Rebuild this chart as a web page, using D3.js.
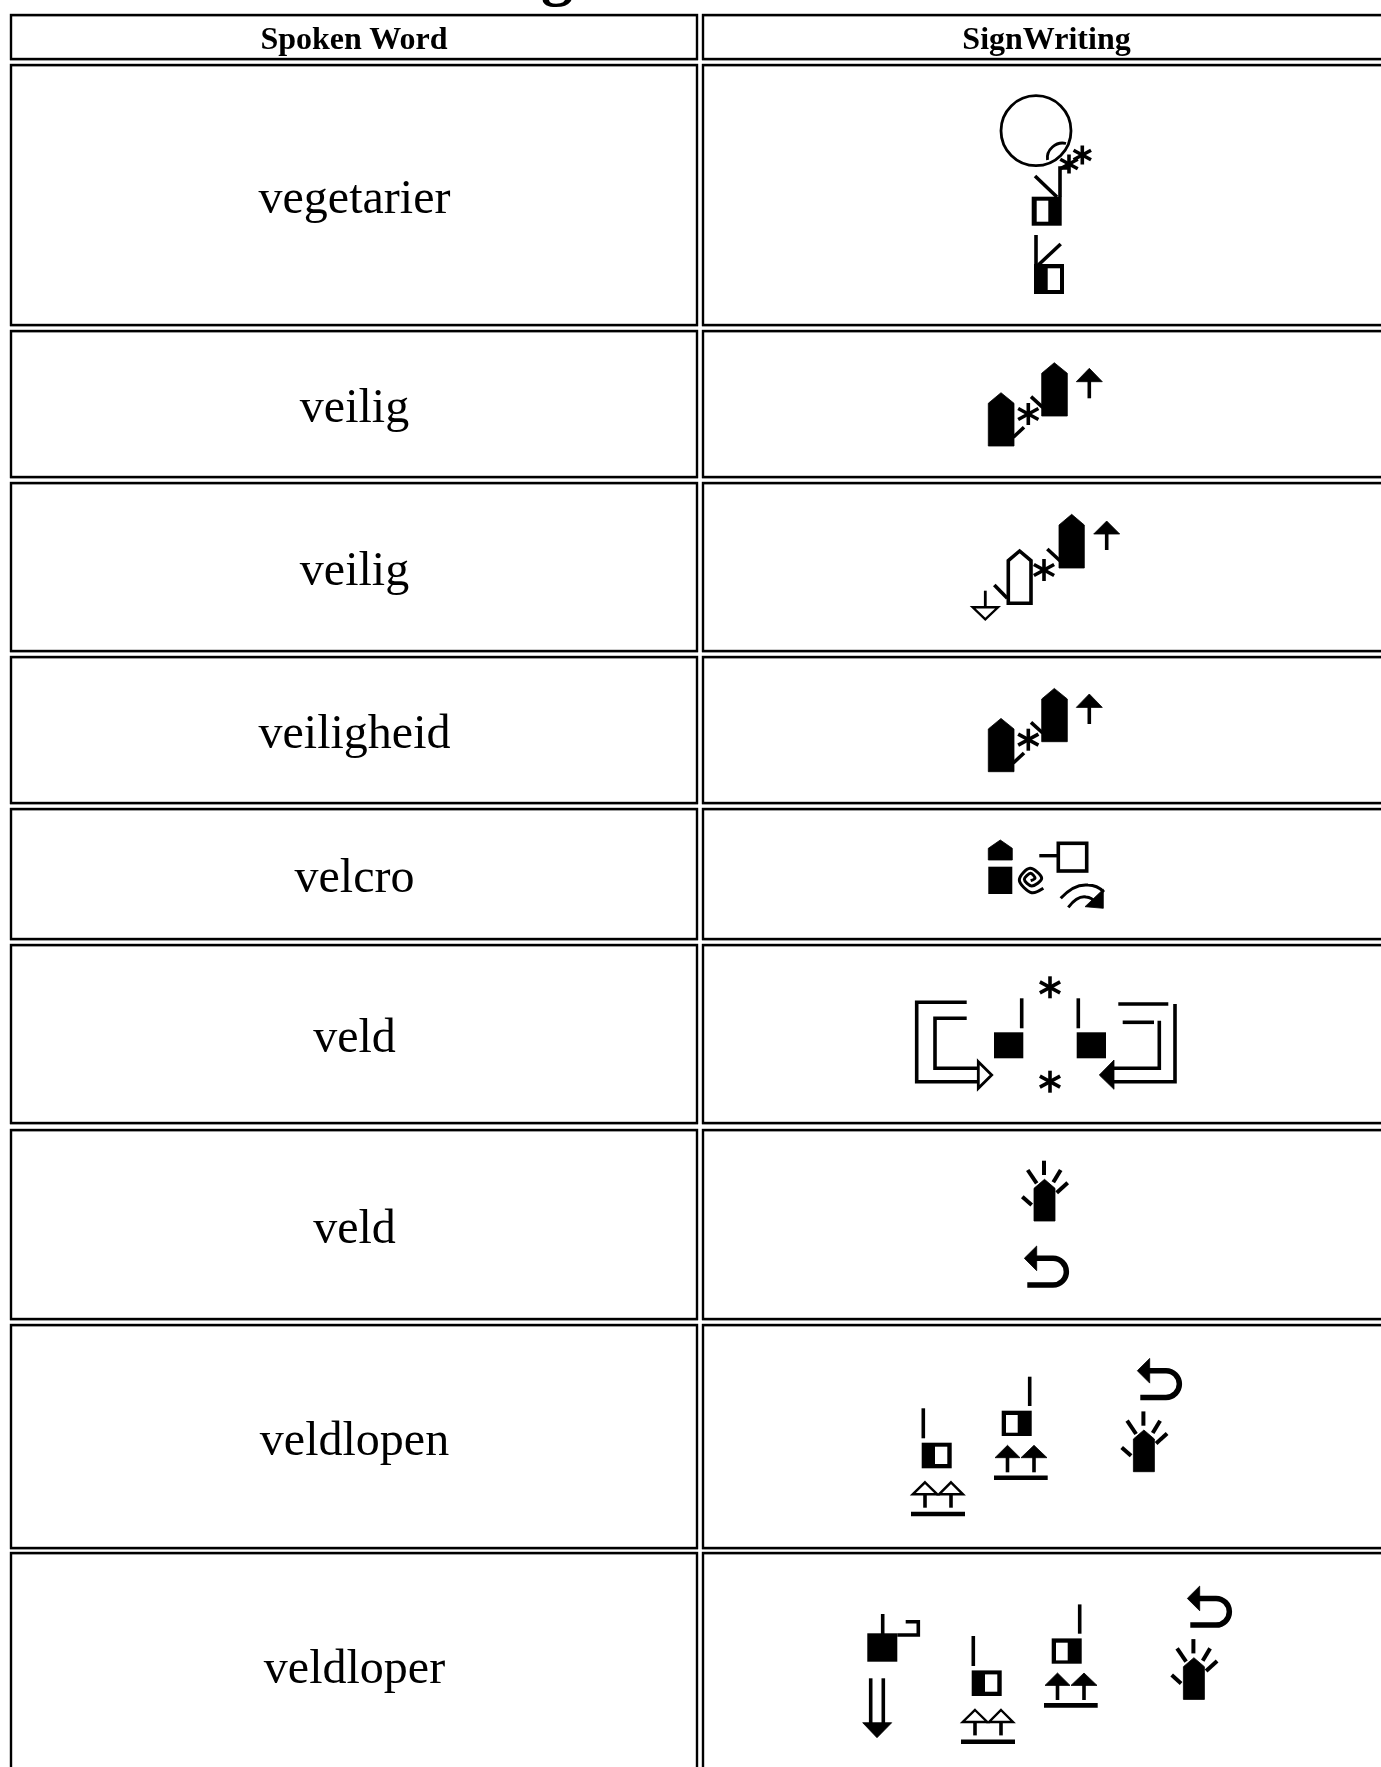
<!DOCTYPE html>
<html><head><meta charset="utf-8">
<script src="https://cdn.jsdelivr.net/npm/d3@7"></script>
<style>html,body{margin:0;padding:0;background:#fff;overflow:hidden}svg{display:block}</style>
</head><body><div id="c"></div>
<script>
// ---- table content ----
const headers = ["Spoken Word", "SignWriting"];
const words = ["vegetarier","veilig","veilig","veiligheid","velcro","veld","veld","veldlopen","veldloper"];
const titleFragment = "g";
const rowTops    = [65,331,483,657,809,945,1130,1325,1553];
const rowBottoms = [325,477,651,803,939,1123,1319,1548,1800];
const headerTop = 15, headerBottom = 59;
const colLefts = [11,703], colRights = [697,1392];

const W = 1381, H = 1767;
const svg = d3.select("#c").append("svg").attr("width",W).attr("height",H).attr("viewBox",[0,0,W,H]);
const defs = svg.append("defs");
defs.append("filter").attr("id","soft").attr("x","-5%").attr("y","-5%").attr("width","110%").attr("height","110%")
  .append("feGaussianBlur").attr("stdDeviation",0.5);
defs.append("filter").attr("id","softText").attr("x","-5%").attr("y","-5%").attr("width","110%").attr("height","110%")
  .append("feGaussianBlur").attr("stdDeviation",0.3);

const serif = "'Liberation Serif','Times New Roman',serif";

// title descender, cropped by the top of the page
svg.append("text").text(titleFragment).attr("x",541).attr("y",-7)
  .attr("font-family",serif).attr("font-size",64).attr("font-weight","bold").attr("fill","#000");

// ---- cells ----
const rows = [{t:headerTop,b:headerBottom}].concat(words.map((w,i)=>({t:rowTops[i],b:rowBottoms[i]})));
const cellG = svg.append("g");
rows.forEach(r=>{
  [0,1].forEach(c=>{
    cellG.append("rect").attr("x",colLefts[c]).attr("y",r.t+0.7).attr("width",colRights[c]-colLefts[c]).attr("height",r.b-r.t)
      .attr("fill","none").attr("stroke","#a8a8a8").attr("stroke-width",2);
    cellG.append("rect").attr("x",colLefts[c]).attr("y",r.t).attr("width",colRights[c]-colLefts[c]).attr("height",r.b-r.t)
      .attr("fill","none").attr("stroke","#000").attr("stroke-width",2.4);
  });
});
const textG = svg.append("g").attr("filter","url(#softText)");
textG.selectAll("text.h").data(headers).join("text").attr("class","h")
  .attr("x",(d,i)=>i?1046.5:354).attr("y",49)
  .attr("text-anchor","middle").attr("font-family",serif).attr("font-size",32).attr("font-weight","bold").attr("fill","#000").text(d=>d);
textG.selectAll("text.w").data(words).join("text").attr("class","w")
  .attr("x",354.5).attr("y",(d,i)=>(rowTops[i]+Math.min(rowBottoms[i],1777))/2+18.4)
  .attr("text-anchor","middle").attr("font-family",serif).attr("font-size",48).attr("fill","#000").text(d=>d);

// ---- glyph helpers ----
const root = svg.append("g").attr("filter","url(#soft)");
function P(g,d,o={}){ return g.append("path").attr("d",d)
  .attr("fill",o.fill||"none").attr("stroke",o.stroke===undefined?"#000":o.stroke)
  .attr("stroke-width",o.w===undefined?3.6:o.w).attr("stroke-linejoin","miter"); }
const L=(g,x1,y1,x2,y2,w=3.6)=>P(g,`M${x1},${y1}L${x2},${y2}`,{w});
const R=(g,x0,y0,x1,y1,fill="#000")=>g.append("rect").attr("x",x0).attr("y",y0).attr("width",x1-x0).attr("height",y1-y0).attr("fill",fill);
function house(g,x0,x1,bottom,shoulder,ax,ay,hollow){
  const d=`M${x0},${bottom}L${x0},${shoulder}L${ax},${ay}L${x1},${shoulder}L${x1},${bottom}Z`;
  P(g,d,hollow?{fill:"#fff",w:3.6}:{fill:"#000",stroke:"#000",w:0.8});
}
function star(g,x,y,r=11){
  L(g,x,y-r,x,y+r,3.6);
  const a=r*0.92, b=r*0.5;
  L(g,x-a,y-b,x+a,y+b,3.6);
  L(g,x-a,y+b,x+a,y-b,3.6);
}
function tri(g,pts,hollow,w=2.8){
  P(g,"M"+pts.map(p=>p.join(",")).join("L")+"Z",hollow?{fill:"#fff",w}:{fill:"#000",stroke:"#000",w:0.8});
}
function upArrow(g,cx,tip,base,half,stemEnd,hollow){
  L(g,cx,base-1,cx,stemEnd,3.6);
  tri(g,[[cx,tip],[cx+half,base],[cx-half,base]],hollow,2.4);
}
function halfHand(g,x0,y0,x1,y1,ix0,iy0,ix1,iy1){ R(g,x0,y0,x1,y1); R(g,ix0,iy0,ix1,iy1,"#fff"); }

// ---- row 1 ----
{ const g=root.append("g");
  g.append("circle").attr("cx",1036).attr("cy",130.7).attr("r",35).attr("fill","none").attr("stroke","#000").attr("stroke-width",2.8);
  P(g,"M1047.5,160C1046,150 1056,141 1066,143.5",{w:2.8});
  star(g,1069,164,9.5); star(g,1082.3,155,9.5);
  P(g,"M1060,197L1060,168L1068,168",{w:3.6});
  L(g,1035,176,1057,197,3.6);
  halfHand(g,1031.7,196.7,1061.7,225.7,1036.7,200.7,1048.3,221.7);
  L(g,1036,235,1036,265,3.6);
  L(g,1038.3,265,1060.7,244,3.6);
  halfHand(g,1034,264,1064,294,1047.7,268.3,1060,290);
}
// ---- rows 2 and 4 share one sign ----
function safeSign(g){
  house(g,988.3,1014,446,403.3,1001,392.7);
  L(g,1013.3,437.3,1024,427.3,3.6);
  star(g,1028.3,414);
  house(g,1041.7,1067.3,416,373.3,1054.3,362.7);
  L(g,1031,396.7,1042.7,407.3,3.6);
  upArrow(g,1089.3,368.3,381.7,13,398.3);
}
safeSign(root.append("g"));
safeSign(root.append("g").attr("transform","translate(0,325.7)"));
// ---- row 3 ----
{ const g=root.append("g");
  house(g,1008.3,1031,603.3,560.7,1019.6,551,true);
  L(g,994.3,585,1007.3,598.3,3.6);
  star(g,1044,570);
  house(g,1059,1084.3,568,525,1071.7,514.3);
  L(g,1047.3,549,1060,560.7,3.6);
  upArrow(g,1106.7,521,534,13,550);
  L(g,985.3,590.7,985.3,607,2.8);
  tri(g,[[972.7,607.3],[998,607.3],[985.3,619.3]],true,2.4);
}
// ---- row 5 ----
{ const g=root.append("g");
  P(g,"M988.3,860L988.3,848.3L1000.3,840L1012.3,848.3L1012.3,860Z",{fill:"#000",stroke:"#000",w:0.8});
  R(g,988.3,866.7,1012.3,894);
  const spiral=[[250,655],[215,668],[178,630],[210,595],[245,625],[215,648],[193,628],[212,610],[225,625],[212,632]]
    .map(([x,y])=>[960+x/3,670+y/3]);
  P(g,d3.line().curve(d3.curveCatmullRom)(spiral),{w:3});
  g.append("rect").attr("x",1058.3).attr("y",843.3).attr("width",28.4).attr("height",27.7).attr("fill","#fff").attr("stroke","#000").attr("stroke-width",3.6);
  L(g,1039.3,855.7,1058.3,855.7,3.4);
  P(g,"M1060.7,898.3C1070,888 1078,884 1088,885C1095,885 1100,888 1104,892",{w:3});
  P(g,"M1068.3,907.3C1074,900 1080,896 1086,897C1091,897 1094,900 1097,904",{w:3});
  tri(g,[[1103.3,889.3],[1103.3,908.3],[1085,906.7]]);
}
// ---- row 6 ----
{ const g=root.append("g");
  P(g,"M966.7,1002.3L916.7,1002.3L916.7,1081.7L978.3,1081.7");
  P(g,"M966.7,1018.3L935,1018.3L935,1068.3L978.3,1068.3");
  tri(g,[[978.3,1061.7],[991.7,1075],[978.3,1088.3]],true,2.8);
  R(g,994,1032.3,1023.3,1058.3);
  L(g,1021.7,998.3,1021.7,1028.3);
  star(g,1050,987.3); star(g,1050,1081.7);
  L(g,1078.3,998.3,1078.3,1028.3);
  R(g,1076.7,1032.3,1106,1058.3);
  tri(g,[[1099.3,1075],[1114,1060],[1114,1089.3]]);
  P(g,"M1113.3,1068.3L1159.3,1068.3L1159.3,1020.7");
  P(g,"M1113.3,1081.7L1175,1081.7L1175,1004");
  L(g,1118.3,1004,1168.3,1004);
  L(g,1122.7,1022.3,1154,1022.3);
}
// ---- shared: hand with rays, and return arrow ----
function rayHand(g){
  house(g,1034,1055,1221,1188.3,1044.5,1179.3);
  L(g,1044,1160.7,1044,1175,4);
  L(g,1027.7,1170,1036.7,1183.3,4);
  L(g,1060.7,1170,1053.3,1182.3,4);
  L(g,1067.7,1182.7,1056.7,1192.7,4);
  L(g,1022.3,1196.7,1031.7,1205,4);
}
function backArrow(g){
  tri(g,[[1024.3,1258.3],[1036.7,1246],[1036.7,1270.7]]);
  P(g,"M1036,1258.3L1053,1258.3A13.3,13.3 0 0 1 1053,1285L1027.3,1285",{w:5.5});
}
rayHand(root.append("g"));
backArrow(root.append("g"));
// ---- row 8, repeated further on in row 9 ----
function runSign(g){
  L(g,923.3,1408.3,923.3,1438.3);
  halfHand(g,921.7,1442.7,951.7,1468.3,935,1446.7,947.3,1464);
  upArrow(g,925,1482.3,1494.3,12.3,1507.7,true);
  upArrow(g,951,1482.3,1494.3,12,1507.7,true);
  L(g,911,1514,965,1514,4.6);
  L(g,1029.7,1376.7,1029.7,1406);
  halfHand(g,1001.7,1410.7,1031.7,1436,1006,1415,1017.7,1432.7);
  upArrow(g,1007.5,1445.3,1457.7,12.5,1472.3);
  upArrow(g,1034,1445.3,1457.7,13,1472.3);
  L(g,994,1477.7,1047.7,1477.7,4.6);
  rayHand(g.append("g").attr("transform","translate(99.4,250.7)"));
  backArrow(g.append("g").attr("transform","translate(113,112.4)"));
}
runSign(root.append("g"));
runSign(root.append("g").attr("transform","translate(50,227.7)"));
// ---- row 9 extra ----
{ const g=root.append("g");
  R(g,867.3,1633.3,897.3,1661.7);
  L(g,882.7,1614,882.7,1634);
  P(g,"M897.3,1635L918.3,1635L918.3,1621.7L905.7,1621.7");
  L(g,870.7,1678.3,870.7,1725);
  L(g,883.3,1678.3,883.3,1725);
  tri(g,[[862.7,1722.7],[891.7,1722.7],[877,1737.7]]);
}
</script></body></html>
